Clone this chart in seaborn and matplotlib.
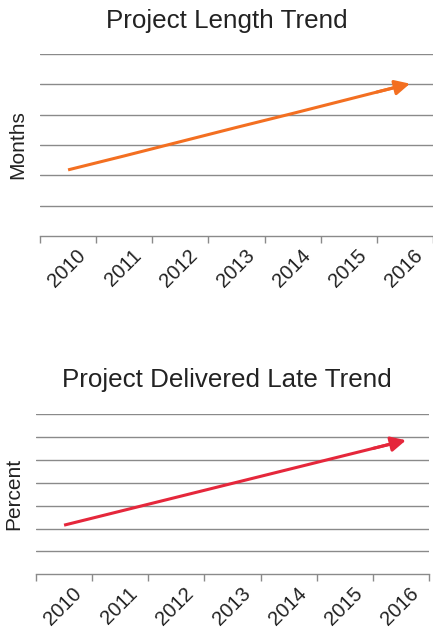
import matplotlib
matplotlib.use("Agg")
import matplotlib.pyplot as plt
import matplotlib.transforms as mtransforms
import numpy as np
import seaborn as sns

sns.set_theme(style="white")
plt.rcParams['font.family'] = ['Liberation Sans', 'DejaVu Sans']

years = ['2010', '2011', '2012', '2013', '2014', '2015', '2016']
months = [2.18, 2.64, 3.11, 3.58, 4.04, 4.51, 4.98]
late_pct = [2.15, 2.76, 3.37, 3.98, 4.59, 5.20, 5.81]

grid_col = '#8a8a8a'
text_col = '#222222'


def trend_panel(fig, rect, values, n_grid, color, ylabel, title, title_y):
    ax = fig.add_axes(rect)
    pos = np.arange(len(years))
    sns.lineplot(x=pos, y=values, ax=ax, color=color, linewidth=2.2,
                 solid_capstyle='butt')
    # arrow head just past the last point
    dx = pos[-1] - pos[-2]
    dy = values[-1] - values[-2]
    ax.annotate('', xy=(pos[-1] + 0.09 * dx, values[-1] + 0.09 * dy),
                xytext=(pos[-2] + 0.5 * dx, values[-2] + 0.5 * dy),
                arrowprops=dict(arrowstyle='-|>,head_length=0.9,head_width=0.45',
                                mutation_scale=10, color=color, lw=2.2,
                                shrinkA=0, shrinkB=0))
    ax.set_xlim(-0.5, len(years) - 0.5)
    ax.set_ylim(0, n_grid)
    ax.set_yticks(range(1, n_grid + 1))
    ax.set_yticklabels([])
    ax.tick_params(axis='y', length=0)
    ax.yaxis.grid(True, color=grid_col, linewidth=1.0)
    ax.xaxis.grid(False)
    for s in ['top', 'right', 'left']:
        ax.spines[s].set_visible(False)
    ax.spines['bottom'].set_color(grid_col)
    ax.spines['bottom'].set_linewidth(1.0)

    ax.set_xticks(pos)
    ax.set_xticklabels(years, rotation=45, ha='right', rotation_mode='anchor',
                       fontsize=14.5, color=text_col)
    ax.tick_params(axis='x', which='major', length=0, pad=7)
    ax.set_xticks(np.arange(-0.5, len(years)), minor=True)
    ax.tick_params(axis='x', which='minor', bottom=True, length=5, width=1.0,
                   color=grid_col, direction='out')
    offset = mtransforms.ScaledTranslation(8 / 100, 0, fig.dpi_scale_trans)
    for lab in ax.get_xticklabels():
        lab.set_transform(lab.get_transform() + offset)

    ax.set_ylabel(ylabel, fontsize=15, color=text_col, labelpad=6)
    fig.text(227 / 433, title_y, title, ha='center', va='center',
             fontsize=18.7, color=text_col)
    return ax


fig = plt.figure(figsize=(4.33, 6.31), dpi=100)
fig.patch.set_facecolor('white')

trend_panel(fig, [40 / 433, 1 - 236 / 631, 393 / 433, (236 - 54) / 631],
            months, 6, '#F36F21', 'Months', 'Project Length Trend',
            1 - 21 / 631)
trend_panel(fig, [36 / 433, 1 - 574.3 / 631, 393 / 433, (574.3 - 414.3) / 631],
            late_pct, 7, '#E5273B', 'Percent', 'Project Delivered Late Trend',
            1 - 380 / 631)

fig.savefig('out.png', dpi=100)
